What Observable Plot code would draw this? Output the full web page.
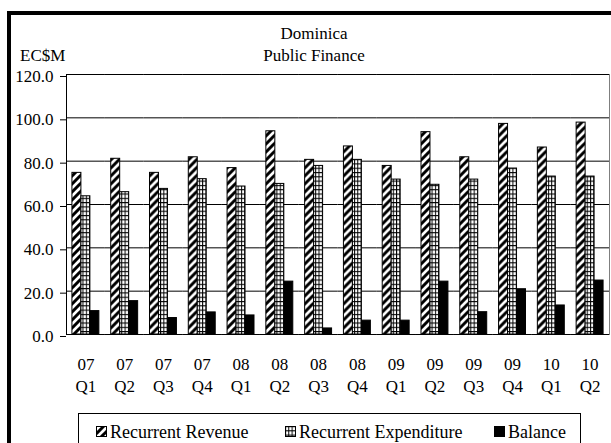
<!DOCTYPE html>
<html>
<head>
<meta charset="utf-8">
<script src="https://cdn.jsdelivr.net/npm/d3@7"></script>
<script src="https://cdn.jsdelivr.net/npm/@observablehq/plot@0.6"></script>
<style>
  body { margin: 0; background: white; }
  #page { position: relative; width: 611px; height: 443px; overflow: hidden; background: white;
          font-family: "Liberation Serif", "Times New Roman", serif; color: black; }
  #chart { position: absolute; left: 0; top: 0; }
  #outer { position: absolute; left: 7px; top: 11px; width: 700px; height: 500px;
           border: 4px solid black; box-sizing: border-box; pointer-events: none; }
  .t { position: absolute; font-size: 17px; line-height: 17px; white-space: nowrap; }
  .center { transform: translateX(-50%); }
  #legend { position: absolute; left: 78px; top: 413px; width: 503px; height: 60px;
            border: 1px solid black; box-sizing: border-box; background: white; }
  .item { position: absolute; top: 9px; font-size: 18px; line-height: 18px; white-space: nowrap; }
  .item svg { position: absolute; left: 0; top: 3px; }
  .item span { position: absolute; left: 14px; top: 0; }
</style>
</head>
<body>
<div id="page">
  <div id="chart"></div>
  <div class="t center" style="left:314px; top:25px;">Dominica</div>
  <div class="t center" style="left:314px; top:47px;">Public Finance</div>
  <div class="t" style="left:20px; top:47px;">EC$M</div>
  <div id="legend"></div>
  <div id="outer"></div>
</div>
<script>
// Quarterly public finance figures, EC$ millions
const quarters = ["07 Q1", "07 Q2", "07 Q3", "07 Q4", "08 Q1", "08 Q2", "08 Q3",
                  "08 Q4", "09 Q1", "09 Q2", "09 Q3", "09 Q4", "10 Q1", "10 Q2"];
const seriesNames = ["Recurrent Revenue", "Recurrent Expenditure", "Balance"];
const revenue     = [74.6, 81.1, 74.6, 81.8, 76.8, 93.8, 80.6, 86.8, 77.8, 93.4, 81.8, 97.2, 86.3, 97.8];
const expenditure = [63.8, 65.7, 67.2, 71.7, 68.3, 69.5, 77.8, 80.6, 71.5, 69.1, 71.5, 76.6, 72.9, 72.9];
const balance     = [10.8, 15.4, 7.6, 10.2, 8.8, 24.4, 2.8, 6.4, 6.4, 24.4, 10.3, 20.9, 13.4, 24.9];
const yTicks = [0, 20, 40, 60, 80, 100, 120];

// Long-format table: one row per quarter and series
const rows = quarters.flatMap((q, i) => [
  {quarter: q, series: seriesNames[0], value: revenue[i]},
  {quarter: q, series: seriesNames[1], value: expenditure[i]},
  {quarter: q, series: seriesNames[2], value: balance[i]}
]);

const fills = ["url(#pf-stripes)", "url(#pf-grid)", "black"];

const chart = Plot.plot({
  width: 611,
  height: 443,
  marginLeft: 66,
  marginRight: 2,
  marginTop: 74,
  marginBottom: 109,
  style: {background: "transparent", fontFamily: "'Liberation Serif', 'Times New Roman', serif", fontSize: "17px", color: "black"},
  facet: {marginTop: 0, marginRight: 0, marginBottom: 0, marginLeft: 0},
  fx: {domain: quarters, padding: 0, round: false, label: null},
  x: {domain: seriesNames, axis: null, paddingInner: 0, paddingOuter: 0.66, round: false},
  y: {domain: [0, 120], label: null},
  color: {domain: seriesNames, range: fills},
  marks: [
    Plot.frame({facet: "super", stroke: "#7f7f7f"}),
    Plot.ruleY(yTicks.filter(d => d > 0), {stroke: "black", strokeWidth: 1}),
    Plot.barY(rows, {fx: "quarter", x: "series", y: "value", fill: "series", stroke: "black", strokeWidth: 1}),
    Plot.ruleY([0], {stroke: "black"}),
    Plot.frame({facet: "super", anchor: "left", stroke: "black"}),
    Plot.axisY({ticks: yTicks, tickFormat: d => d.toFixed(1), tickSize: 6, tickPadding: 7, dy: 2, fontSize: 17, label: null}),
    Plot.axisFx({anchor: "bottom", tickSize: 0, tickPadding: 19, lineHeight: 1.33, fontSize: 17,
                 tickFormat: d => d.replace(" ", "\n"), label: null})
  ]
});

// Fill patterns for the two hatched series
const defs = d3.select(chart).insert("defs", ":first-child");
const stripes = defs.append("pattern").attr("id", "pf-stripes")
  .attr("patternUnits", "userSpaceOnUse").attr("width", 8).attr("height", 8);
stripes.append("rect").attr("width", 8).attr("height", 8).attr("fill", "white");
stripes.append("path").attr("d", "M-2,2 L2,-2 M0,8 L8,0 M6,10 L10,6")
  .attr("stroke", "black").attr("stroke-width", 3);
const grid = defs.append("pattern").attr("id", "pf-grid")
  .attr("patternUnits", "userSpaceOnUse").attr("width", 3.3).attr("height", 4.3);
grid.append("rect").attr("width", 3.3).attr("height", 4.3).attr("fill", "white");
grid.append("path").attr("d", "M0,0.5 H3.3 M0.5,0 V4.3").attr("stroke", "black").attr("stroke-width", 1);

document.getElementById("chart").append(chart);

// Legend with swatches using the same fills
const legendX = [17, 206, 415];
const legend = d3.select("#legend");
seriesNames.forEach((name, i) => {
  const item = legend.append("div").attr("class", "item").style("left", legendX[i] + "px");
  const sw = item.append("svg").attr("width", 11).attr("height", 11);
  sw.append("rect").attr("x", 0.5).attr("y", 0.5).attr("width", 10).attr("height", 10)
    .attr("fill", fills[i]).attr("stroke", "black");
  item.append("span").text(name);
});
</script>
</body>
</html>
